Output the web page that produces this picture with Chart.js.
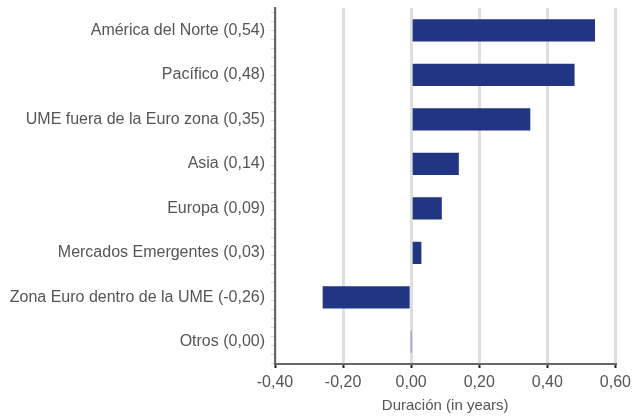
<!DOCTYPE html>
<html>
<head>
<meta charset="utf-8">
<script src="https://cdn.jsdelivr.net/npm/chart.js@4.4.0/dist/chart.umd.min.js"></script>
<style>
    html, body { margin: 0; padding: 0; background: #fff; }
    #wrap { width: 636px; height: 417px; }
</style>
</head>
<body>
<div id="wrap"><canvas id="durChart"></canvas></div>
<script>
// datos
const regiones = ['América del Norte', 'Pacífico', 'UME fuera de la Euro zona', 'Asia', 'Europa', 'Mercados Emergentes', 'Zona Euro dentro de la UME', 'Otros'];
const duracion = [0.54, 0.48, 0.35, 0.14, 0.09, 0.03, -0.26, 0.00];
const xTicks = [-0.4, -0.2, 0, 0.2, 0.4, 0.6];

function fmt(v) {
    return v.toFixed(2).replace('.', ',');
}

const etiquetas = regiones.map((r, i) => r + ' (' + fmt(duracion[i]) + ')');

// marcas menores en el eje y
const minorTicks = {
    id: 'minorTicks',
    afterDraw(chart) {
        const { ctx, chartArea } = chart;
        ctx.save();
        ctx.strokeStyle = '#d4d4d4';
        ctx.lineWidth = 1;
        for (let y = chartArea.top + 4; y < chartArea.bottom; y += 9) {
            ctx.beginPath();
            ctx.moveTo(chartArea.left - 4, Math.round(y) + 0.5);
            ctx.lineTo(chartArea.left - 1, Math.round(y) + 0.5);
            ctx.stroke();
        }
        ctx.restore();
    }
};

const fuente = { family: 'Liberation Sans, Arial', size: 16 };

const ctx = document.getElementById('durChart').getContext('2d');
new Chart(ctx, {
    type: 'bar',
    data: {
        labels: etiquetas,
        datasets: [{
            data: duracion,
            backgroundColor: c => c.raw === 0 ? '#8393d2' : '#213582',
            categoryPercentage: 0.5,
            barPercentage: 1,
            minBarLength: 1
        }]
    },
    options: {
        indexAxis: 'y',
        responsive: true,
        maintainAspectRatio: false,
        animation: false,
        layout: { padding: { top: 8, right: 14, bottom: 0, left: 0 } },
        plugins: {
            legend: { display: false },
            tooltip: { enabled: false }
        },
        scales: {
            x: {
                min: -0.4,
                max: 0.6,
                afterBuildTicks: axis => { axis.ticks = xTicks.map(v => ({ value: v })); },
                afterFit: axis => { axis.height = 53; },
                grid: {
                    color: '#dedede',
                    lineWidth: 3,
                    drawTicks: true,
                    tickLength: 4,
                    tickColor: '#222',
                    tickWidth: 2
                },
                border: { color: '#666', width: 2 },
                ticks: {
                    callback: v => fmt(v),
                    color: '#555',
                    font: fuente,
                    padding: 5
                },
                title: {
                    display: true,
                    text: 'Duración (in years)',
                    color: '#555',
                    font: { family: 'Liberation Sans, Arial', size: 15 },
                    padding: { top: 4, bottom: 2 }
                }
            },
            y: {
                grid: { display: false },
                border: { color: '#666', width: 2 },
                afterFit: axis => {
                    axis.width = 275;
                    axis.paddingTop = 0;
                    axis.paddingBottom = 0;
                },
                ticks: {
                    color: '#555',
                    font: fuente,
                    padding: 2
                }
            }
        }
    },
    plugins: [minorTicks]
});
</script>
</body>
</html>
